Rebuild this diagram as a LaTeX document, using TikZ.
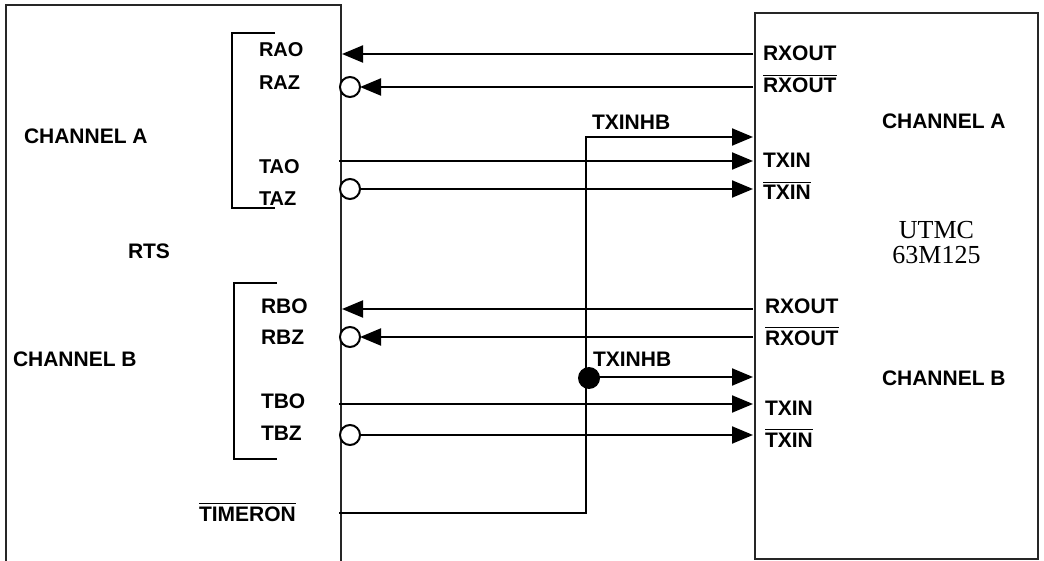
\documentclass[tikz,border=0pt]{standalone}
\usepackage{fontspec}
\setmainfont{Liberation Sans}
\newfontfamily\serifface{Liberation Serif}
\usetikzlibrary{arrows.meta}
\newcommand{\barred}[1]{\setbox0=\hbox{#1}\leavevmode\rlap{\rule[17.4pt]{\wd0}{1pt}}\box0}
\tikzset{
  x=1pt,y=-1pt,
  lbl/.style={font=\fontsize{21}{21}\selectfont\bfseries,anchor=base west,inner sep=0pt,outer sep=0pt,text=black},
  lblsm/.style={lbl,font=\fontsize{20}{20}\selectfont\bfseries},
  boxline/.style={line width=1.4pt,draw=black!85},
  wire/.style={line width=2pt,draw=black},
  arr/.style={wire,-{Triangle[length=21pt,width=17pt]}},
  bub/.style={circle,draw=black,fill=white,line width=2pt,minimum size=20pt,inner sep=0pt,outer sep=0pt},
  dotn/.style={circle,fill=black,minimum size=22pt,inner sep=0pt,outer sep=0pt},
  brk/.style={line width=2pt,draw=black}
}
\begin{document}
\begin{tikzpicture}
\useasboundingbox (0,0) rectangle (1044,561);
% boxes
\coordinate (la) at (6,561); \coordinate (lb) at (6,5); \coordinate (lc) at (341,5); \coordinate (ld) at (341,561);
\draw[boxline] (la) -- (lb) -- (lc) -- (ld);
\coordinate (ra) at (755,13); \coordinate (rb) at (1038,13); \coordinate (rc) at (1038,559); \coordinate (rd) at (755,559);
\draw[boxline] (ra) -- (rb) -- (rc) -- (rd) -- cycle;
% brackets
\coordinate (ba1) at (275,33); \coordinate (ba2) at (232,33); \coordinate (ba3) at (232,208); \coordinate (ba4) at (275,208);
\draw[brk] (ba1) -- (ba2) -- (ba3) -- (ba4);
\coordinate (bb1) at (277,283); \coordinate (bb2) at (234,283); \coordinate (bb3) at (234,459); \coordinate (bb4) at (277,459);
\draw[brk] (bb1) -- (bb2) -- (bb3) -- (bb4);
% labels left
\node[lblsm] (rao) at (259,57) {RAO};
\node[lblsm] (raz) at (259,89.5) {RAZ};
\node[lblsm] (tao) at (259,174) {TAO};
\node[lblsm] (taz) at (259,205.5) {TAZ};
\node[lbl] (rbo) at (261,313) {RBO};
\node[lbl] (rbz) at (261,344) {RBZ};
\node[lbl] (tbo) at (261,408) {TBO};
\node[lbl] (tbz) at (261,440) {TBZ};
\node[lbl] (timeron) at (199,521.5) {\barred{TIMERON}};
\node[lbl] (cha) at (24,144) {CHANNEL A};
\node[lbl] (rts) at (128,259) {RTS};
\node[lbl] (chb) at (13,366) {CHANNEL B};
% labels right
\node[lbl] (rxa) at (763,61) {RXOUT};
\node[lbl] (rxab) at (763,93) {\barred{RXOUT}};
\node[lbl] (txihb) at (592,130) {TXINHB};
\node[lbl] (txa) at (763,168) {TXIN};
\node[lbl] (txab) at (763,200) {\barred{TXIN}};
\node[lbl] (chra) at (882,129) {CHANNEL A};
\node[lbl] (rxb) at (765,313) {RXOUT};
\node[lbl] (rxbb) at (765,345) {\barred{RXOUT}};
\node[lbl] (txihb2) at (593,366) {TXINHB};
\node[lbl] (chrb) at (882,385) {CHANNEL B};
\node[lbl] (txb) at (765,415) {TXIN};
\node[lbl] (txbb) at (765,447) {\barred{TXIN}};
\node[font=\serifface\fontsize{26}{24.5}\selectfont,align=center,inner sep=0pt,anchor=base] (utmc) at (936.5,263.5) {UTMC\\63M125};
% ports on boxes
\foreach \n/\y in {rao/54,raz/87,rbo/309,rbz/337}{
  \coordinate (\n R) at (753,\y);
}
\coordinate (raoL) at (342,54);
\coordinate (rboL) at (342,309);
\node[bub] (bubraz) at (350,87) {};
\node[bub] (bubrbz) at (350,337) {};
\node[bub] (bubtaz) at (350,189) {};
\node[bub] (bubtbz) at (350,435) {};
\coordinate (taoL) at (339,161); \coordinate (taoR) at (753,161);
\coordinate (tazR) at (753,189);
\coordinate (tboL) at (339,404); \coordinate (tboR) at (753,404);
\coordinate (tbzR) at (753,435);
\coordinate (timL) at (339,513); \coordinate (timC) at (586,513);
\coordinate (hbTop) at (586,137); \coordinate (hbR) at (753,137);
\node[dotn] (junction) at (589,378) {};
\coordinate (hb2R) at (753,377);
\draw[arr] (raoR) -- (raoL);
\draw[arr] (razR) -- (bubraz.east);
\draw[arr] (rboR) -- (rboL);
\draw[arr] (rbzR) -- (bubrbz.east);
\draw[arr] (taoL) -- (taoR);
\draw[arr] (bubtaz.east) -- (tazR);
\draw[arr] (tboL) -- (tboR);
\draw[arr] (bubtbz.east) -- (tbzR);
\draw[arr] (timL) -- (timC) -- (hbTop) -- (hbR);
\draw[arr] (junction.center |- hb2R) -- (hb2R);
\end{tikzpicture}
\end{document}
